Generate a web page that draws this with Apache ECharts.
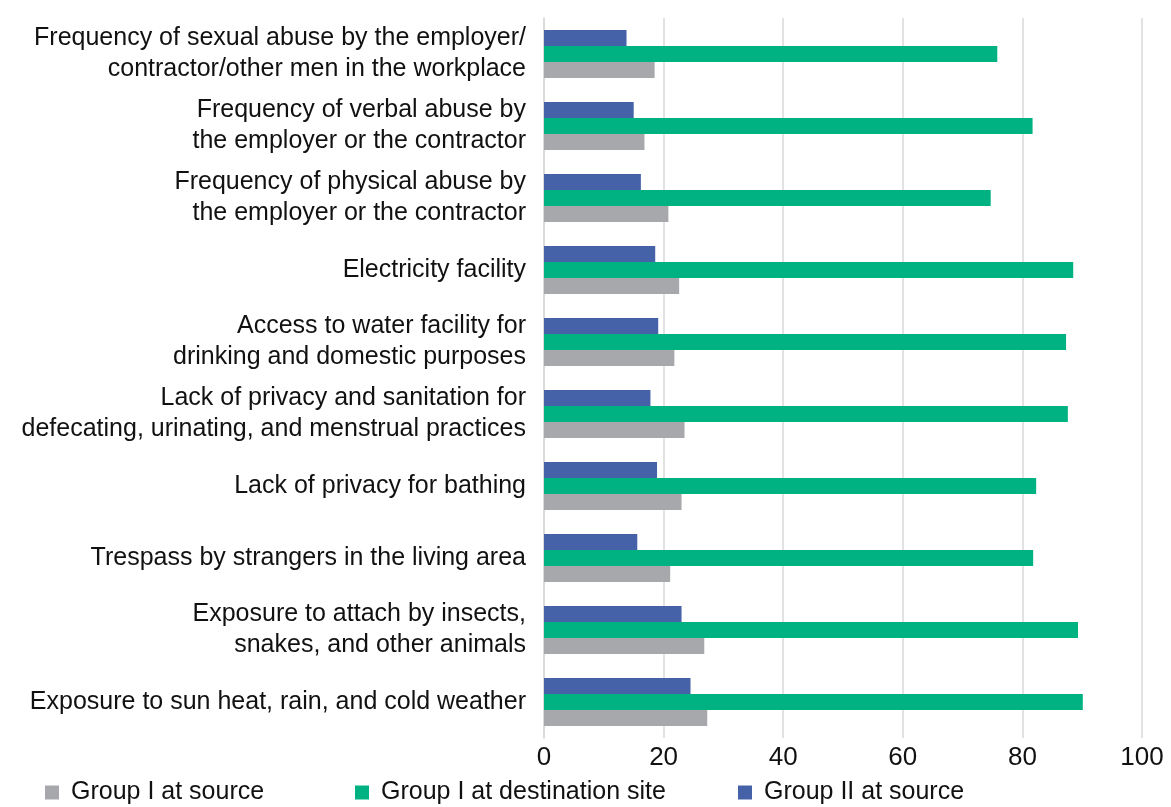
<!DOCTYPE html>
<html><head><meta charset="utf-8">
<script src="https://cdn.jsdelivr.net/npm/echarts@6/dist/echarts.min.js"></script>
<style>html,body{margin:0;padding:0;background:#fff}#c{width:1171px;height:807px}</style>
</head><body><div id="c"></div>
<script>
// categories listed bottom to top
const categories = [
  "Exposure to sun heat, rain, and cold weather",
  "Exposure to attach by insects,\nsnakes, and other animals",
  "Trespass by strangers in the living area",
  "Lack of privacy for bathing",
  "Lack of privacy and sanitation for\ndefecating, urinating, and menstrual practices",
  "Access to water facility for\ndrinking and domestic purposes",
  "Electricity facility",
  "Frequency of physical abuse by\nthe employer or the contractor",
  "Frequency of verbal abuse by\nthe employer or the contractor",
  "Frequency of sexual abuse by the employer/\ncontractor/other men in the workplace"
];
const groupISource      = [27.3, 26.8, 21.1, 23.0, 23.5, 21.8, 22.6, 20.8, 16.8, 18.5];
const groupIDestination = [90.1, 89.3, 81.8, 82.3, 87.6, 87.3, 88.5, 74.7, 81.7, 75.8];
const groupIISource     = [24.5, 23.0, 15.6, 18.9, 17.8, 19.1, 18.6, 16.2, 15.0, 13.8];
const seriesNames = ["Group I at source", "Group I at destination site", "Group II at source"];
const xTicks = [0, 20, 40, 60, 80, 100];

const colors = ["#A7A8AB", "#00B282", "#4562A8"];
const font = "'Liberation Sans', Arial, sans-serif";
const chart = echarts.init(document.getElementById('c'), null, {renderer: 'canvas'});
const legendLefts = [45, 355, 738];
const seriesData = [groupISource, groupIDestination, groupIISource];
// draw order: blue (top of band), green, gray (bottom of band)
const order = [2, 1, 0];
chart.setOption({
  animation: false,
  grid: {left: 544, right: 29, top: 18, bottom: 69, containLabel: false},
  xAxis: {
    type: 'value', min: xTicks[0], max: xTicks[xTicks.length - 1], interval: 20,
    axisLine: {show: false}, axisTick: {show: false},
    splitLine: {show: true, lineStyle: {color: '#D9D9D9', width: 1.5}},
    axisLabel: {color: '#111', fontSize: 26, fontFamily: font, margin: 7}
  },
  yAxis: {
    type: 'category', data: categories,
    axisLine: {show: true, lineStyle: {color: '#D9D9D9', width: 1.5}},
    axisTick: {show: false},
    axisLabel: {color: '#111', fontSize: 25, fontFamily: font, margin: 18, lineHeight: 31, align: 'right'}
  },
  legend: seriesNames.map((n, i) => ({
    data: [n], left: legendLefts[i], top: 780, padding: 0, itemWidth: 14, itemHeight: 14, itemGap: 0,
    icon: 'rect', textStyle: {fontSize: 25, color: '#111', fontFamily: font, padding: [0, 0, 0, 7]}
  })),
  series: order.map(i => ({
    name: seriesNames[i], type: 'bar', data: seriesData[i], barWidth: 16, barGap: '0%',
    itemStyle: {color: colors[i]}
  }))
});
</script></body></html>
